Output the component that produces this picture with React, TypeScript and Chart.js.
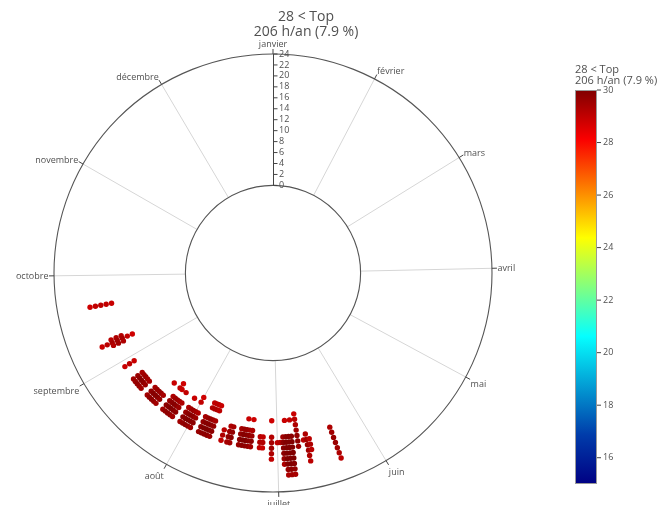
import { useEffect, useRef } from "react";
import { Chart, registerables } from "chart.js";

Chart.register(...registerables);

// ---------- data ----------
const TITLE_LINES = ["28 < Top", "206 h/an (7.9 %)"];
const MONTH_LABELS = ["janvier", "février", "mars", "avril", "mai", "juin", "juillet", "août", "septembre", "octobre", "novembre", "décembre"];
const MONTH_TICK_DAYS = [0, 28, 59, 90, 120, 151, 181, 212, 243, 273, 304, 334];
const DAYS_IN_YEAR = 365;
const RADIAL_TICKS = [0, 2, 4, 6, 8, 10, 12, 14, 16, 18, 20, 22, 24];
const HOUR_MAX = 24;
const HOLE = 0.4;
const COLOR_MIN = 15;
const COLOR_MAX = 30;
const COLORBAR_TICKS = [16, 18, 20, 22, 24, 26, 28, 30];

// one entry per day that has hours above threshold
const columnDays = [
  263, 251, 250, 249, 241,
  236, 235, 234, 233, 232,
  229, 228, 227, 226, 225,
  222, 221, 220, 219, 218,
  215, 214, 213, 212, 211,
  208, 207, 206, 205, 204,
  200, 198, 197,
  194, 193, 192, 191, 190,
  187, 186, 183,
  181, 180, 179, 178, 177, 176,
  174, 172, 171, 170, 162,
];

const columnHours = [
  [14, 15, 16, 17, 18], [14, 15, 16], [12, 13, 14, 15, 16, 17, 18], [14, 15, 16], [14, 15, 16],
  [14, 15, 16], [14, 15, 16], [14, 15, 16], [14, 15, 16], [14, 15, 16],
  [14, 15, 16], [14, 15, 16], [14, 15, 16], [14, 15, 16], [11, 14, 15, 16],
  [10, 11, 13, 14, 15, 16], [11, 13, 14, 15, 16], [13, 14, 15, 16], [11, 13, 14, 15, 16], [13, 14, 15, 16],
  [11, 13, 14, 15, 16], [13, 14, 15, 16], [13, 14, 15, 16], [10, 11, 13, 14, 15, 16], [13, 14, 15, 16],
  [13, 14, 15, 16], [10, 11, 13, 14, 15, 16], [10, 11, 13, 14, 15, 16], [10, 11, 13, 14, 15, 16], [10, 11, 13, 14, 15, 16],
  [14, 15, 16], [13, 14, 15, 16], [13, 14, 15, 16],
  [13, 14, 15, 16], [13, 14, 15, 16], [11, 13, 14, 15, 16], [13, 14, 15, 16], [11, 13, 14, 15, 16],
  [14, 15, 16], [14, 15, 16], [11, 14, 15, 16, 17, 18],
  [15], [15], [14, 15, 16, 17, 18, 19], [11, 14, 15, 16, 17, 18, 19, 20, 21], [14, 15, 16, 17, 18, 19, 20, 21], [11, 14, 15, 16, 17, 18, 19, 20, 21],
  [10, 11, 12, 13, 14, 15, 16], [15], [14, 15, 16, 17, 18, 19], [15, 16, 17], [14, 15, 16, 17, 18, 19, 20],
];

const columnTops = [
  [28.9, 29.0, 29.1, 29.0, 28.8], [29.2, 29.3, 29.1], [28.8, 29.0, 29.4, 29.5, 29.4, 29.1, 28.9], [29.3, 29.5, 29.2], [28.9, 29.1, 28.9],
  [29.4, 29.6, 29.5], [29.5, 29.8, 29.6], [29.6, 29.9, 29.7], [29.5, 29.8, 29.6], [29.4, 29.6, 29.5],
  [29.4, 29.7, 29.5], [29.6, 29.9, 29.7], [29.7, 29.9, 29.8], [29.6, 29.9, 29.7], [28.9, 29.4, 29.7, 29.5],
  [28.8, 29.0, 29.3, 29.6, 29.8, 29.5], [28.9, 29.5, 29.8, 29.9, 29.7], [29.6, 29.9, 30.0, 29.8], [29.0, 29.5, 29.8, 29.9, 29.7], [29.3, 29.6, 29.8, 29.5],
  [28.9, 29.3, 29.6, 29.8, 29.5], [29.5, 29.8, 29.9, 29.7], [29.6, 29.9, 30.0, 29.8], [28.8, 29.0, 29.5, 29.8, 29.9, 29.7], [29.3, 29.6, 29.8, 29.5],
  [29.4, 29.7, 29.8, 29.6], [29.0, 29.2, 29.6, 29.9, 30.0, 29.8], [29.1, 29.3, 29.7, 29.9, 30.0, 29.8], [29.1, 29.3, 29.6, 29.9, 30.0, 29.8], [28.9, 29.1, 29.4, 29.7, 29.8, 29.6],
  [29.1, 29.3, 29.0], [29.3, 29.6, 29.7, 29.4], [29.4, 29.7, 29.8, 29.5],
  [29.4, 29.7, 29.8, 29.6], [29.6, 29.9, 30.0, 29.8], [28.9, 29.6, 29.9, 30.0, 29.8], [29.5, 29.8, 29.9, 29.7], [28.8, 29.3, 29.6, 29.8, 29.5],
  [29.1, 29.3, 29.0], [29.0, 29.2, 28.9], [28.8, 29.2, 29.4, 29.5, 29.3, 29.0],
  [29.0], [29.2], [29.5, 29.8, 29.9, 29.8, 29.6, 29.3], [28.9, 29.8, 30.0, 30.0, 30.0, 30.0, 29.9, 29.6, 29.3], [29.9, 30.0, 30.0, 30.0, 30.0, 30.0, 29.8, 29.5], [29.0, 29.8, 30.0, 30.0, 30.0, 30.0, 29.9, 29.7, 29.4],
  [28.9, 29.1, 29.3, 29.5, 29.7, 29.8, 29.6], [29.1], [29.3, 29.5, 29.6, 29.5, 29.3, 29.1], [29.1, 29.3, 29.1], [29.3, 29.5, 29.6, 29.6, 29.5, 29.3, 29.1],
];

// plotly "Jet" colorscale
const JET_STOPS: [number, [number, number, number]][] = [
  [0, [0, 0, 131]],
  [0.125, [0, 60, 170]],
  [0.375, [5, 255, 255]],
  [0.625, [255, 255, 0]],
  [0.875, [250, 0, 0]],
  [1, [128, 0, 0]],
];

function jet(v: number): string {
  const t = Math.max(0, Math.min(1, (v - COLOR_MIN) / (COLOR_MAX - COLOR_MIN)));
  for (let i = 1; i < JET_STOPS.length; i++) {
    const [t1, c1] = JET_STOPS[i];
    const [t0, c0] = JET_STOPS[i - 1];
    if (t <= t1) {
      const f = (t - t0) / (t1 - t0);
      const c = c0.map((a, k) => Math.round(a + (c1[k] - a) * f));
      return `rgb(${c[0]},${c[1]},${c[2]})`;
    }
  }
  return "rgb(128,0,0)";
}

const HOLE_OFFSET = (HOUR_MAX * HOLE) / (1 - HOLE); // 16 hour-units
const OUTER = HOLE_OFFSET + HOUR_MAX; // 40

const FONT = "'Open Sans', 'Liberation Sans', sans-serif";
const TEXT_COLOR = "#505050";

export default function App() {
  const ref = useRef<HTMLCanvasElement | null>(null);

  useEffect(() => {
    document.body.style.margin = "0";
    const canvas = ref.current;
    if (!canvas) return;

    const points: { x: number; y: number }[] = [];
    const colors: string[] = [];
    columnDays.forEach((day, i) => {
      const theta = (2 * Math.PI * day) / DAYS_IN_YEAR;
      columnHours[i].forEach((h, j) => {
        const r = HOLE_OFFSET + h;
        points.push({ x: r * Math.sin(theta), y: r * Math.cos(theta) });
        colors.push(jet(columnTops[i][j]));
      });
    });

    const geom = (chart: any) => {
      const xs = chart.scales.x;
      const ys = chart.scales.y;
      const cx = xs.getPixelForValue(0);
      const cy = ys.getPixelForValue(0);
      const unit = xs.getPixelForValue(1) - cx;
      return { cx, cy, unit, R: unit * OUTER, R0: unit * HOLE_OFFSET };
    };

    const frame = {
      id: "polarFrame",
      beforeDatasetsDraw(chart: any) {
        const ctx = chart.ctx as CanvasRenderingContext2D;
        const { cx, cy, R, R0 } = geom(chart);
        ctx.save();
        // angular grid
        ctx.strokeStyle = "#d6d6d6";
        ctx.lineWidth = 1;
        MONTH_TICK_DAYS.forEach((d, i) => {
          if (i === 0) return;
          const th = (2 * Math.PI * d) / DAYS_IN_YEAR;
          const s = Math.sin(th), c = Math.cos(th);
          ctx.beginPath();
          ctx.moveTo(cx + R0 * s, cy - R0 * c);
          ctx.lineTo(cx + R * s, cy - R * c);
          ctx.stroke();
        });
        // circles
        ctx.strokeStyle = "#555";
        ctx.lineWidth = 1.1;
        ctx.beginPath();
        ctx.arc(cx, cy, R, 0, 2 * Math.PI);
        ctx.stroke();
        ctx.beginPath();
        ctx.arc(cx, cy, R0, 0, 2 * Math.PI);
        ctx.stroke();
        // month ticks and labels
        const fs = 9;
        const standoff = 5.5;
        ctx.font = `${fs}px ${FONT}`;
        ctx.fillStyle = TEXT_COLOR;
        ctx.textBaseline = "alphabetic";
        ctx.lineWidth = 1;
        ctx.strokeStyle = "#444";
        MONTH_TICK_DAYS.forEach((d, i) => {
          const th = (2 * Math.PI * d) / DAYS_IN_YEAR;
          const s = Math.sin(th), c = Math.cos(th);
          const px = cx + R * s, py = cy - R * c;
          ctx.beginPath();
          ctx.moveTo(px, py);
          ctx.lineTo(px + 5 * s, py - 5 * c);
          ctx.stroke();
          const cosr = s, sinr = c;
          const ff = sinr > 0 ? 0.2 : 1;
          const lx = px + cosr * standoff;
          const ly = py - sinr * (standoff + fs * ff) + Math.abs(cosr) * fs * 0.35;
          ctx.textAlign = Math.abs(cosr) < 0.1 ? "center" : cosr > 0 ? "left" : "right";
          ctx.fillText(MONTH_LABELS[i], lx, ly);
        });
        ctx.restore();
      },
      afterDatasetsDraw(chart: any) {
        const ctx = chart.ctx as CanvasRenderingContext2D;
        const { cx, cy, unit, R, R0 } = geom(chart);
        ctx.save();
        // radial axis
        ctx.strokeStyle = "#444";
        ctx.lineWidth = 1;
        ctx.beginPath();
        ctx.moveTo(Math.round(cx) + 0.5, cy - R0);
        ctx.lineTo(Math.round(cx) + 0.5, cy - R);
        ctx.stroke();
        ctx.font = `9px ${FONT}`;
        ctx.fillStyle = TEXT_COLOR;
        ctx.textAlign = "left";
        ctx.textBaseline = "middle";
        RADIAL_TICKS.forEach((v) => {
          const y = cy - (R0 + v * unit);
          ctx.beginPath();
          ctx.moveTo(Math.round(cx) + 0.5, y);
          ctx.lineTo(Math.round(cx) + 4.5, y);
          ctx.stroke();
          ctx.fillText(String(v), Math.round(cx) + 6, y);
        });
        // title
        ctx.font = `14px ${FONT}`;
        ctx.textAlign = "center";
        ctx.textBaseline = "alphabetic";
        ctx.fillText(TITLE_LINES[0], 306, 20.5);
        ctx.fillText(TITLE_LINES[1], 306, 35.5);
        // colorbar
        const bx = 575, bw = 22, top = 90, bottom = 484;
        const grad = ctx.createLinearGradient(0, bottom, 0, top);
        JET_STOPS.forEach(([t, c]) => grad.addColorStop(t, `rgb(${c[0]},${c[1]},${c[2]})`));
        ctx.fillStyle = grad;
        ctx.fillRect(bx, top, bw, bottom - top);
        ctx.strokeStyle = "#999";
        ctx.lineWidth = 1;
        ctx.strokeRect(bx + 0.5, top + 0.5, bw - 1, bottom - top - 1);
        ctx.fillStyle = TEXT_COLOR;
        ctx.font = `9px ${FONT}`;
        ctx.textAlign = "left";
        ctx.textBaseline = "middle";
        ctx.strokeStyle = "#444";
        COLORBAR_TICKS.forEach((v) => {
          const y = bottom - ((v - COLOR_MIN) / (COLOR_MAX - COLOR_MIN)) * (bottom - top);
          ctx.beginPath();
          ctx.moveTo(bx + bw, y);
          ctx.lineTo(bx + bw + 4, y);
          ctx.stroke();
          ctx.fillText(String(v), bx + bw + 6, y);
        });
        ctx.font = `11px ${FONT}`;
        ctx.textBaseline = "alphabetic";
        ctx.fillText(TITLE_LINES[0], bx, 72.5);
        ctx.fillText(TITLE_LINES[1], bx, 84);
        ctx.restore();
      },
    };

    const chart = new Chart(canvas, {
      type: "scatter",
      data: {
        datasets: [
          {
            data: points,
            backgroundColor: colors,
            borderWidth: 0,
            pointRadius: 2.7,
            pointHoverRadius: 2.7,
            clip: false as any,
          },
        ],
      },
      options: {
        animation: false,
        responsive: false,
        events: [],
        layout: { padding: { left: 54, top: 54, right: 171, bottom: 13 } },
        scales: {
          x: { type: "linear", min: -OUTER, max: OUTER, display: false },
          y: { type: "linear", min: -OUTER, max: OUTER, display: false },
        },
        plugins: { legend: { display: false }, tooltip: { enabled: false }, title: { display: false } },
      },
      plugins: [frame],
    });
    return () => chart.destroy();
  }, []);

  return <canvas ref={ref} width={663} height={505} style={{ display: "block" }} />;
}
